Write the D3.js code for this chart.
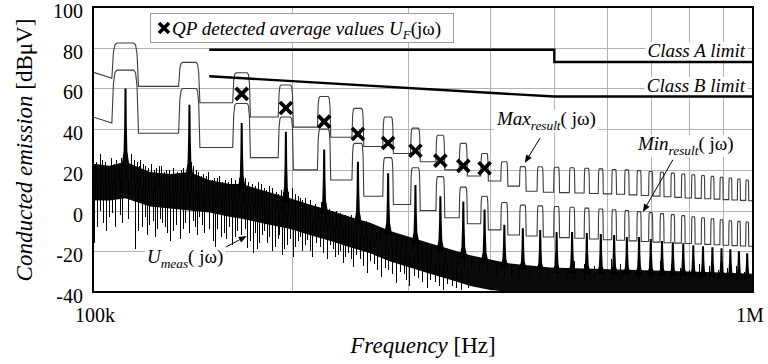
<!DOCTYPE html>
<html>
<head>
<meta charset="utf-8">
<script src="https://cdn.jsdelivr.net/npm/d3@7"></script>
<style>
  body { margin: 0; background: #fff; }
  svg, svg text { font-family: "Liberation Serif", "Times New Roman", Tinos, "DejaVu Serif", "Noto Serif", serif; }
</style>
</head>
<body>
<svg id="chart" width="768" height="364" font-family="Liberation Serif, Times New Roman, DejaVu Serif, serif"></svg>
<script>
// frequencies in kHz, levels in dBuV
const F0 = 28;
const harmonics = [4, 5, 6, 7, 8, 9, 10, 11, 12, 13, 14, 15, 16, 17, 18, 19, 20, 21, 22, 23, 24, 25, 26, 27, 28, 29, 30, 31, 32, 33, 34, 35];

const maxStart = 68;
const maxGap = [65, 61, 53, 46, 41, 36, 31.5, 28, 24, 20, 17, 14.5, 12, 9.5, 9, 8.8, 8.6, 8.4, 8.2, 8, 7.7, 7.4, 7.1, 6.8, 6.5, 6.2, 6, 5.8, 5.6, 5.4, 5.2, 5];
const maxTop = [82.3, 72.8, 67.7, 61.7, 56, 50.2, 46, 40.5, 37, 33, 28, 24, 21.6, 21.5, 21.3, 21, 20.8, 20.5, 20.2, 20, 19.6, 19.2, 18.8, 18.4, 18, 17.6, 17.2, 16.8, 16.4, 16, 15.5, 15];
const maxTail = 4.8;

const minStart = 46;
const minGap = [43, 38, 31, 26, 20, 15, 7, 3, 0, -3.5, -6.5, -9.5, -12, -12.5, -13, -13.3, -13.6, -14, -14.3, -14.6, -14.9, -15.2, -15.5, -15.8, -16, -16.2, -16.4, -16.6, -16.8, -17, -17.2, -17.4];
const minTop = [69, 60, 52.6, 46, 40, 33, 26, 21, 16.7, 11.5, 7, 4, 2.7, 2.3, 2, 1.6, 1.2, 0.8, 0.4, 0, -0.5, -1, -1.5, -2, -2.5, -3, -3.5, -4, -4.5, -5, -5.3, -5.6];
const minTail = -17.5;

const umeasPeak = [60, 52, 43, 38.7, 30, 24, 18.3, 12.6, 7, 4.4, 0.5, -7, -8.7, -9.5, -10.5, -10.5, -11, -11.5, -12, -13, -13, -14, -15, -15.5, -16, -17, -17.5, -18, -18.5, -19, -20, -21];

const qpHarmonics = [6, 7, 8, 9, 10, 11, 12, 13, 14];
const qpValues = [57.3, 50.4, 43.7, 37.6, 33.2, 29.4, 24.5, 22, 20.8];

// measured noise floor of Umeas: dense band plus single hairs
const noiseKHz = [100, 106, 112, 122, 131, 140, 150, 161, 168, 185, 199, 213, 229, 245, 263, 282, 302, 324, 348, 373, 400, 429, 493, 627, 829, 1000];
const noiseHi = [23, 22, 24, 19, 18, 19, 15, 13, 13, 9, 6, 3, 0, -3, -6, -10, -13, -16, -19, -22, -24, -26, -28, -29, -30, -31];
const noiseLo = [5, 5, 6, 2, 1, 0, -1, -3, -4, -7, -9, -12, -15, -18, -21, -25, -28, -31, -34, -37, -39, -40, -40, -40, -40, -40];
const hairsUp = [[100.3,27],[101,23],[101.4,24],[102.8,28],[103.5,25],[104.6,24],[105.5,22],[106.8,26],[107.8,23],[108.7,25],[109.6,22],[110.6,26],[112.5,27],[114.2,28],[115.4,25],[116.6,24],[117.5,22],[118.2,25],[119.3,23],[120.3,22],[121.5,21],[122.8,23],[124,20],[125,21],[126,22],[127.2,22],[128.3,19],[129.4,20],[130.5,20],[132.6,21],[133.5,18],[134.5,19],[136,20],[137.3,21],[139,22],[141,24],[142.2,22],[143.5,20],[144.7,19],[146,17],[147.2,18],[148.5,17],[149.8,19],[151.5,15],[153,16],[154.3,16],[155.7,17],[157.3,14],[159,15],[160.5,14],[161.9,16],[163.3,13],[164.6,15],[167,16],[169,14],[170.5,16],[172.3,14],[174.2,13],[176,12],[177.9,14],[179.8,13],[181.6,11],[183.3,10],[184.9,12],[187,11],[189.4,9],[191,8],[192.7,10],[194.3,9],[195.9,8],[198,9],[200.5,11],[202.8,8],[204.5,7],[206.4,6],[208,5],[210,6],[213.5,5],[217,3],[219.5,2],[222.3,4],[225,3],[227.9,1],[230.7,0],[233.8,0],[237.5,-1],[241.2,-2],[244,-3],[246.8,-2],[251,-4],[255.6,-6],[260,-5],[264.8,-7],[268.5,-8],[272.4,-10],[278,-9],[283.8,-11],[288.5,-12],[293.6,-13],[299,-14],[304.4,-15],[310,-14],[315.3,-17],[320.5,-16],[326.3,-18],[333.5,-19],[341.6,-20],[349,-21],[356.9,-21],[365,-22],[374.2,-23],[385,-24],[396.5,-24],[408,-25],[420.1,-26],[431,-26],[442.1,-27],[459,-27],[476,-26],[490,-28],[506,-27],[521,-28],[537,-25],[556,-26],[576,-27],[593,-29],[611,-24],[629,-26],[648,-28],[674,-29],[700,-27],[725,-25],[752,-26],[776,-28],[801,-29],[830,-26],[860,-27],[888,-29],[915,-28],[944,-27],[972,-30]];
const hairsDown = [[100.7,-16],[101.6,-8],[102.5,0],[103.9,-6],[105,-10],[106,-3],[107,-1],[108,-8],[109.9,-2],[111,-6],[113,-4],[115.8,-19],[117,-10],[119,-8],[120,-3],[121,-12],[122,-7],[123.3,-5],[124.4,-13],[125.4,-9],[126.5,-4],[127.6,-6],[128.7,-8],[129.9,-11],[131,-15],[132.2,-10],[133.8,-7],[135.5,-14],[137,-9],[138.3,-6],[140,-11],[141.8,-5],[143.2,-8],[144.2,-12],[145.2,-3],[146.5,-7],[147.8,-11],[150,-9],[152,-15],[153.3,-18],[154.6,-9],[156.8,-13],[158,-11],[159.5,-14],[161,-8],[162.9,-17],[164.3,-13],[165.8,-10],[168,-12],[170,-9],[171.2,-18.5],[173,-15],[174.8,-21],[176,-11],[177.3,-19],[179,-16],[180.4,-12],[182,-10],[183.6,-16],[185.2,-13],[186.8,-20],[189,-18],[190.7,-14],[192,-12],[193.4,-22],[195,-19],[196.8,-17],[199,-14],[201,-22.6],[202.7,-18],[204.5,-15],[206,-13],[208,-20],[209.8,-17],[211.7,-14.5],[213.5,-20],[215.3,-22.6],[218,-16],[220.8,-18],[223.5,-21],[226.4,-24],[229,-17],[231.2,-19],[233,-23],[235.4,-22],[237.5,-20],[239.6,-25.8],[241.7,-23],[243.8,-21],[246,-24],[248,-27.6],[251,-22],[254,-24],[257,-27],[260.3,-30.8],[263.5,-25],[266.6,-26],[270,-29],[274,-32.5],[277,-28],[280.7,-29],[284.5,-31],[288.6,-35.8],[292,-30],[296,-31],[299,-34],[302.2,-37],[306.5,-32],[311,-33],[316,-35],[320.8,-38],[325,-34],[330,-35],[335,-37],[339.3,-39],[345,-36],[350,-37],[356,-38],[362,-39],[370,-38]];

const classAKHz = [150, 500, 500, 1000];
const classA = [79, 79, 73, 73];
const classBKHz = [150, 500, 1000];
const classB = [66, 56, 56];

const yTicks = [-40, -20, 0, 20, 40, 60, 80, 100];
const xGrid = [200, 300, 400, 500, 600, 700, 800, 900];
const xTicks = [100, 1000];
const xTickLabels = ['100k', '1M'];

const svg = d3.select('#chart');
const L = 93, R = 753, T = 7, B = 292;
const x = d3.scaleLog().domain([100, 1000]).range([L, R]);
const y = d3.scaleLinear().domain([-40, 100]).range([B, T]);
const coreHi = d3.scaleLog().domain(noiseKHz).range(noiseHi);
const coreLo = d3.scaleLog().domain(noiseKHz).range(noiseLo);

svg.append('defs').append('clipPath').attr('id', 'plot')
  .append('rect').attr('x', L).attr('y', T).attr('width', R - L).attr('height', B - T);

// grid
const grid = svg.append('g').attr('stroke', '#b3b3b3').attr('stroke-width', 1);
grid.selectAll('line.h').data(yTicks.slice(1, -1)).join('line')
  .attr('x1', L).attr('x2', R).attr('y1', d => Math.round(y(d)) + 0.5).attr('y2', d => Math.round(y(d)) + 0.5);
grid.selectAll('line.v').data(xGrid).join('line')
  .attr('y1', T).attr('y2', B).attr('x1', d => Math.round(x(d)) + 0.5).attr('x2', d => Math.round(x(d)) + 0.5);

const plot = svg.append('g').attr('clip-path', 'url(#plot)');

// Umeas noise band
plot.append('path')
  .datum(noiseKHz.map((f, i) => [f, noiseHi[i], noiseLo[i]]))
  .attr('fill', '#0a0a0a')
  .attr('d', d3.area().x(d => x(d[0])).y0(d => y(d[2])).y1(d => y(d[1])));

const mid = f => (coreHi(f) + coreLo(f)) / 2;
plot.append('g').attr('stroke', '#000').attr('stroke-width', 1).attr('shape-rendering', 'crispEdges')
  .selectAll('line').data(hairsUp.concat(hairsDown)).join('line')
  .attr('x1', d => x(d[0])).attr('x2', d => x(d[0]))
  .attr('y1', d => y(d[1])).attr('y2', d => y(mid(d[0])));

// Umeas harmonic lines
const spike = (f, peak) => {
  const px = x(f), top = y(peak), base = y(coreHi(f)) + 5;
  const m1 = top + (base - top) * 0.45, m2 = top + (base - top) * 0.8;
  return `M${px - 1},${top}L${px + 1},${top}L${px + 1.3},${m1}L${px + 1.9},${m2}L${px + 4},${base}` +
    `L${px - 4},${base}L${px - 1.9},${m2}L${px - 1.3},${m1}Z`;
};
plot.append('g').selectAll('path').data(harmonics).join('path')
  .attr('fill', '#000')
  .attr('d', (n, i) => spike(n * F0, umeasPeak[i]));

// Max / Min result envelopes
const hump = [[-5.2, 0], [-4.6, 0.75], [-4.0, 0.96], [-3.2, 1], [3.2, 1], [4.0, 0.96], [4.6, 0.75], [5.2, 0]];
function tracePoints(start, gaps, tops, tail) {
  const pts = [[100, start]];
  harmonics.forEach((n, i) => {
    const f = n * F0;
    const left = gaps[i];
    const right = i + 1 < gaps.length ? gaps[i + 1] : tail;
    hump.forEach(([df, k]) => {
      const base = df < 0 ? left : right;
      pts.push([f + df, base + k * (tops[i] - base)]);
    });
  });
  pts.push([1000, tail]);
  return pts;
}
const line = d3.line().x(d => x(d[0])).y(d => y(d[1]));
[[maxStart, maxGap, maxTop, maxTail], [minStart, minGap, minTop, minTail]].forEach(s => {
  plot.append('path').datum(tracePoints(...s))
    .attr('fill', 'none').attr('stroke', '#3c3c3c').attr('stroke-width', 1.1)
    .attr('d', line);
});

// limits
[[classAKHz, classA], [classBKHz, classB]].forEach(([fs, vs]) => {
  plot.append('path').datum(fs.map((f, i) => [f, vs[i]]))
    .attr('fill', 'none').attr('stroke', '#000').attr('stroke-width', 2.4)
    .attr('d', line);
});

// QP markers
const cross = 'M-6,-6L6,6M-6,6L6,-6';
svg.append('g').selectAll('path').data(qpHarmonics).join('path')
  .attr('transform', (n, i) => `translate(${x(n * F0)},${y(qpValues[i])})`)
  .attr('d', cross).attr('stroke', '#000').attr('stroke-width', 3.8).attr('fill', 'none');

// frame
svg.append('rect').attr('x', L).attr('y', T).attr('width', R - L).attr('height', B - T)
  .attr('fill', 'none').attr('stroke', '#000').attr('stroke-width', 2);

const SERIF = 'Liberation Serif, Times New Roman, DejaVu Serif, serif';

// annotation labels with white background
function label(xp, yp, anchor, parts, size) {
  const g = svg.append('g');
  const bg = g.append('rect').attr('fill', '#fff');
  const t = g.append('text').attr('x', xp).attr('y', yp).attr('text-anchor', anchor)
    .attr('font-size', size).attr('font-family', SERIF);
  parts.forEach(p => {
    t.append('tspan').text(p.t)
      .attr('font-style', p.i ? 'italic' : 'normal')
      .attr('font-size', p.sub ? size * 0.7 : null)
      .attr('dy', p.dy || 0);
  });
  const b = t.node().getBBox();
  bg.attr('x', b.x - 2).attr('y', b.y + 2).attr('width', b.width + 4).attr('height', b.height - 3);
  return g;
}
label(745, 57, 'end', [{t: 'Class A limit', i: true}], 19);
label(745, 92, 'end', [{t: 'Class B limit', i: true}], 19);
label(497, 125, 'start', [{t: 'Max', i: true}, {t: 'result', i: true, sub: true, dy: 5}, {t: '( jω)', dy: -5}], 19);
label(638, 150, 'start', [{t: 'Min', i: true}, {t: 'result', i: true, sub: true, dy: 5}, {t: '( jω)', dy: -5}], 19);
label(147, 263, 'start', [{t: 'U', i: true}, {t: 'meas', i: true, sub: true, dy: 5}, {t: '( jω)', dy: -5}], 19);

// arrows
const arrows = [
  [[476, 35.7], [451, 23.4]],
  [[756, 24.9], [681, -0.7]],
  [[159, -17.9], [171, -12.5]]
];
arrows.forEach(([a, b]) => {
  const x1 = x(a[0]), y1 = y(a[1]), x2 = x(b[0]), y2 = y(b[1]);
  const ang = Math.atan2(y2 - y1, x2 - x1);
  const hl = 8, hw = 3.2;
  const bx = x2 - hl * Math.cos(ang), by = y2 - hl * Math.sin(ang);
  svg.append('line').attr('x1', x1).attr('y1', y1).attr('x2', bx).attr('y2', by)
    .attr('stroke', '#000').attr('stroke-width', 1);
  svg.append('path')
    .attr('d', `M${x2},${y2}L${bx - hw * Math.sin(ang)},${by + hw * Math.cos(ang)}L${bx + hw * Math.sin(ang)},${by - hw * Math.cos(ang)}Z`)
    .attr('fill', '#000');
});

// legend
const lg = svg.append('g');
lg.append('rect').attr('x', 150.5).attr('y', 13.5).attr('width', 303).attr('height', 29)
  .attr('fill', '#fff').attr('stroke', '#9a9a9a');
lg.append('path').attr('transform', 'translate(164,28)').attr('d', 'M-5,-5L5,5M-5,5L5,-5')
  .attr('stroke', '#000').attr('stroke-width', 3.6);
const lt = lg.append('text').attr('x', 172).attr('y', 35).attr('font-size', 19).attr('font-family', SERIF);
lt.append('tspan').attr('font-style', 'italic').text('QP detected average values U');
lt.append('tspan').attr('font-style', 'italic').attr('font-size', 13).attr('dy', 4).text('F');
lt.append('tspan').attr('dy', -4).text('(jω)');

// axes
svg.append('g').attr('font-size', 20).attr('font-family', SERIF).attr('text-anchor', 'end')
  .selectAll('text').data(yTicks).join('text')
  .attr('x', 83).attr('y', d => y(d) + 4).attr('dy', '0.35em').text(d => d);
svg.append('g').attr('font-size', 20).attr('font-family', SERIF).attr('text-anchor', 'middle')
  .selectAll('text').data(xTicks).join('text')
  .attr('x', d => x(d)).attr('dx', (d, i) => i ? -3 : 2).attr('y', 322).text((d, i) => xTickLabels[i]);

const xt = svg.append('text').attr('x', 423).attr('y', 353).attr('text-anchor', 'middle')
  .attr('font-size', 23).attr('font-family', SERIF);
xt.append('tspan').attr('font-style', 'italic').text('Frequency ');
xt.append('tspan').text('[Hz]');

const yt = svg.append('text').attr('transform', 'translate(32,150) rotate(-90)').attr('text-anchor', 'middle')
  .attr('font-size', 23).attr('font-family', SERIF);
yt.append('tspan').attr('font-style', 'italic').text('Conducted emission ');
yt.append('tspan').text('[dBμV]');
</script>
</body>
</html>
